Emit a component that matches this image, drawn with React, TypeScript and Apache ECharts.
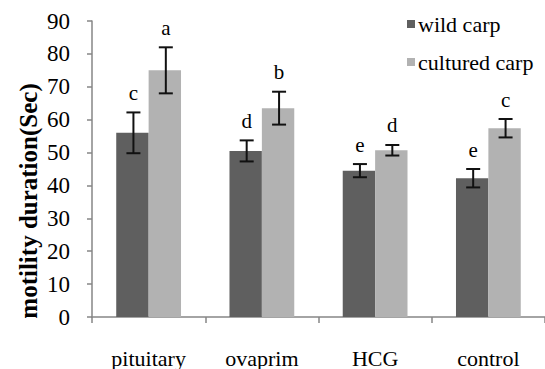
import React, { useEffect, useRef } from "react";
import * as echarts from "echarts";

const categories = ["pituitary", "ovaprim", "HCG", "control"];
const wildValues = [56, 50.5, 44.5, 42.2];
const wildErrors = [6.2, 3.2, 2, 2.8];
const wildLetters = ["c", "d", "e", "e"];
const culturedValues = [75, 63.5, 50.7, 57.4];
const culturedErrors = [7, 5, 1.6, 2.8];
const culturedLetters = ["a", "b", "d", "c"];
const yTicks = { min: 0, max: 90, interval: 10 };

const FONT = "Liberation Serif";
const BAR_FRAC = 0.286;

function errorSeries(name: string, values: number[], errors: number[], letters: string[], side: number) {
  return {
    type: "custom",
    name: name + " error",
    z: 5,
    silent: true,
    data: values.map((v, i) => [i, v, errors[i]]),
    renderItem: (params: any, api: any) => {
      const i = api.value(0);
      const v = api.value(1);
      const e = api.value(2);
      const c = api.coord([i, v]);
      const bandW = api.size([1, 0])[0];
      const bw = bandW * BAR_FRAC;
      const x = c[0] + (side * bw) / 2 + 1;
      const top = api.coord([i, v + e])[1];
      const bot = api.coord([i, v - e])[1];
      const cap = 7;
      const st = { stroke: "#111", lineWidth: 2 };
      return {
        type: "group",
        children: [
          { type: "line", shape: { x1: x, y1: top, x2: x, y2: bot }, style: st },
          { type: "line", shape: { x1: x - cap, y1: top, x2: x + cap, y2: top }, style: st },
          { type: "line", shape: { x1: x - cap, y1: bot, x2: x + cap, y2: bot }, style: st },
          {
            type: "text",
            x: x,
            y: top - 9,
            style: {
              text: letters[params.dataIndex],
              fill: "#000",
              fontFamily: FONT,
              fontSize: 21,
              align: "center",
              verticalAlign: "bottom",
            },
          },
        ],
      };
    },
  };
}

export default function App() {
  const ref = useRef<HTMLDivElement>(null);
  useEffect(() => {
    if (!ref.current) return;
    const chart = echarts.init(ref.current, null, { renderer: "svg" });
    chart.setOption({
      animation: false,
      backgroundColor: "#ffffff",
      textStyle: { fontFamily: FONT },
      grid: { left: 92, top: 21, width: 462, height: 297 },
      legend: {
        orient: "vertical",
        left: 407,
        top: 13,
        padding: 0,
        icon: "rect",
        itemWidth: 8,
        itemHeight: 8,
        itemGap: 16,
        data: ["wild carp", "cultured carp"],
        textStyle: { fontFamily: FONT, fontSize: 22, color: "#000", lineHeight: 22, padding: [0, 0, 0, -2] },
      },
      xAxis: {
        type: "category",
        data: categories,
        axisLine: { lineStyle: { color: "#868686", width: 1.5 } },
        axisTick: { show: true, length: 6, lineStyle: { color: "#868686", width: 1.5 } },
        axisLabel: { color: "#000", fontFamily: FONT, fontSize: 22, margin: 30 },
      },
      yAxis: {
        type: "value",
        min: yTicks.min,
        max: yTicks.max,
        interval: yTicks.interval,
        splitLine: { show: false },
        axisLine: { show: true, lineStyle: { color: "#868686", width: 1.5 } },
        axisTick: { show: true, length: 5, lineStyle: { color: "#868686", width: 1.5 } },
        axisLabel: { color: "#000", fontFamily: FONT, fontSize: 23, margin: 22 },
      },
      graphic: [
        {
          type: "text",
          x: 28,
          y: 201,
          rotation: Math.PI / 2,
          style: {
            text: "motility duration(Sec)",
            fontFamily: FONT,
            fontWeight: "bold",
            fontSize: 25,
            fill: "#000",
            align: "center",
            verticalAlign: "middle",
          },
        },
      ],
      series: [
        {
          type: "bar",
          name: "wild carp",
          data: wildValues,
          barWidth: BAR_FRAC * 100 + "%",
          barGap: "0%",
          itemStyle: { color: "#5f5f5f" },
        },
        {
          type: "bar",
          name: "cultured carp",
          data: culturedValues,
          barWidth: BAR_FRAC * 100 + "%",
          barGap: "0%",
          itemStyle: { color: "#b2b2b2" },
        },
        errorSeries("wild carp", wildValues, wildErrors, wildLetters, -1),
        errorSeries("cultured carp", culturedValues, culturedErrors, culturedLetters, 1),
      ],
    });
    return () => chart.dispose();
  }, []);
  return (
    <div
      ref={ref}
      style={{ position: "fixed", left: 0, top: 0, width: 545, height: 369 }}
    />
  );
}
